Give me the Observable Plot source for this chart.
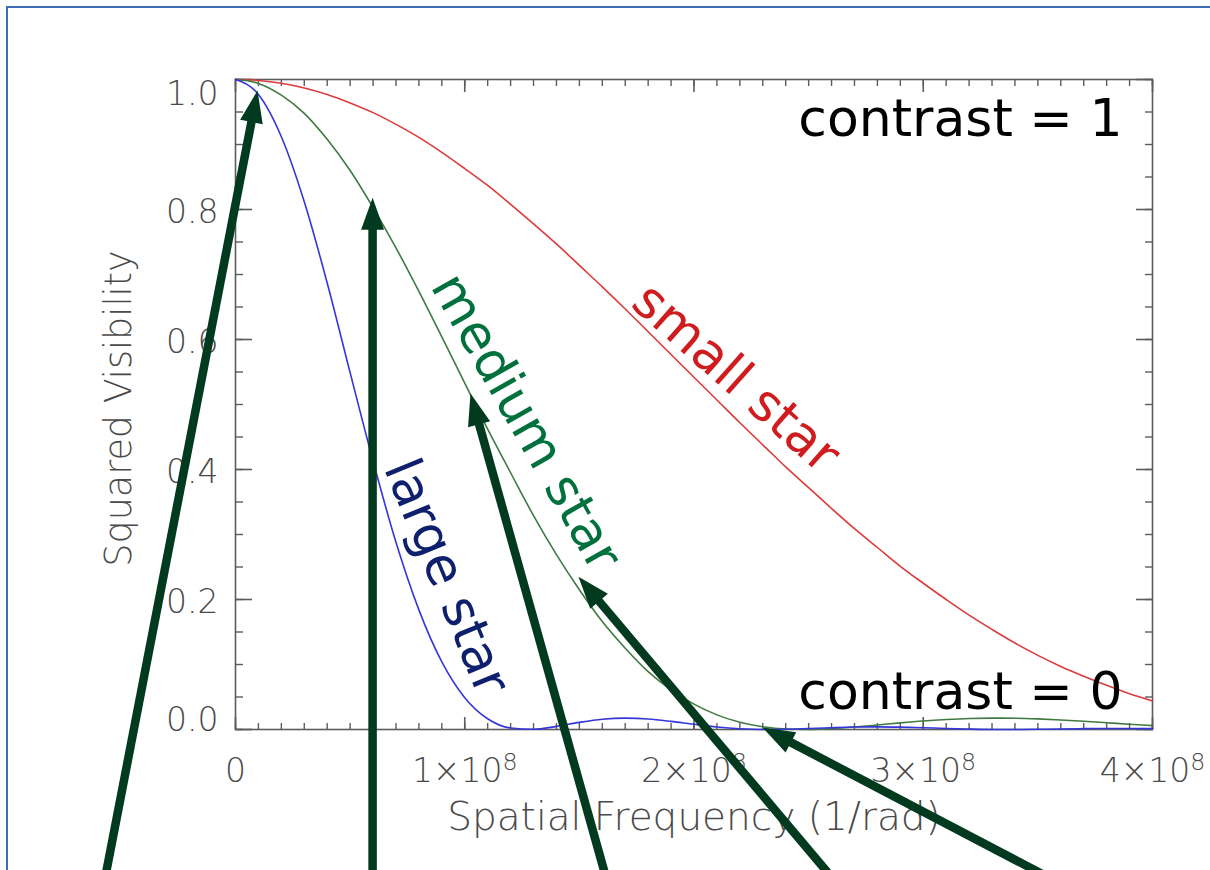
<!DOCTYPE html>
<html>
<head>
<meta charset="utf-8">
<script src="https://cdn.jsdelivr.net/npm/d3@7"></script>
<script src="https://cdn.jsdelivr.net/npm/@observablehq/plot@0.6"></script>
<style>
  html, body { margin: 0; padding: 0; background: #fff; width: 1210px; height: 870px; overflow: hidden; }
  #border { position: absolute; left: 6px; top: 6px; width: 1400px; height: 1000px;
            border-top: 2px solid #3d6db4; border-left: 2px solid #3d6db4; }
  #chart { position: absolute; left: 0; top: 0; }
</style>
</head>
<body>
<div id="border"></div>
<div id="chart"></div>
<script>
// ---------------- data ----------------
const spatialFrequency = [
  0, 1e7, 2e7, 3e7, 4e7, 5e7, 6e7, 7e7, 8e7, 9e7,
  1e8, 1.1e8, 1.2e8, 1.3e8, 1.4e8, 1.5e8, 1.6e8, 1.7e8, 1.8e8, 1.9e8,
  2e8, 2.1e8, 2.2e8, 2.3e8, 2.4e8, 2.5e8, 2.6e8, 2.7e8, 2.8e8, 2.9e8,
  3e8, 3.1e8, 3.2e8, 3.3e8, 3.4e8, 3.5e8, 3.6e8, 3.7e8, 3.8e8, 3.9e8, 4e8
];
const smallStar = [
  1, 0.9985, 0.9942, 0.987, 0.977, 0.964, 0.949, 0.931, 0.911, 0.888,
  0.863, 0.837, 0.808, 0.778, 0.747, 0.714, 0.681, 0.647, 0.612, 0.577,
  0.542, 0.507, 0.472, 0.438, 0.404, 0.372, 0.340, 0.309, 0.280, 0.251,
  0.225, 0.200, 0.176, 0.154, 0.133, 0.114, 0.097, 0.082, 0.068, 0.055, 0.044
];
const mediumStar = [
  1, 0.994, 0.976, 0.948, 0.908, 0.860, 0.803, 0.741, 0.674, 0.604,
  0.533, 0.462, 0.395, 0.329, 0.269, 0.215, 0.166, 0.125, 0.089, 0.061,
  0.039, 0.0225, 0.0111, 0.0042, 0.0007, 0.0000, 0.0013, 0.0038, 0.0069, 0.0102,
  0.0131, 0.0153, 0.0169, 0.0175, 0.0173, 0.0163, 0.0147, 0.0128, 0.0105, 0.0081, 0.0059
];
const largeStar = [
  1, 0.977, 0.912, 0.812, 0.687, 0.549, 0.413, 0.288, 0.184, 0.104,
  0.049, 0.0165, 0.0023, 0.0003, 0.0048, 0.0110, 0.0158, 0.0175, 0.0162, 0.0125,
  0.0080, 0.0039, 0.0012, 0.0000, 0.0003, 0.0015, 0.0028, 0.0038, 0.0041, 0.0037,
  0.0028, 0.0016, 0.0007, 0.0001, 0.0000, 0.0003, 0.0008, 0.0013, 0.0015, 0.0015, 0.0014
];
const seriesNames = ["small star", "medium star", "large star"];

const xMajorTicks = [0, 1e8, 2e8, 3e8, 4e8];
const xTickLabels = ["0", "1×10⁸", "2×10⁸", "3×10⁸", "4×10⁸"];
const yMajorTicks = [0, 0.2, 0.4, 0.6, 0.8, 1.0];
const yTickLabels = ["0.0", "0.2", "0.4", "0.6", "0.8", "1.0"];
const xMinorTicks = d3.range(0, 4e8 + 1, 1e7);
const yMinorTicks = d3.range(0, 1.0001, 0.05);

const xTitle = "Spatial Frequency (1/rad)";
const yTitle = "Squared Visibility";
const contrastLabels = ["contrast = 1", "contrast = 0"];

// arrows (tail below the axis, tip on a curve), in data units
const arrowTailX = [-0.567e8, 0.598e8, 1.614e8, 2.595e8, 3.533e8];
const arrowTailY = [-0.225, -0.225, -0.225, -0.225, -0.225];
const arrowTipX  = [0.096e8, 0.598e8, 1.025e8, 1.496e8, 2.299e8];
const arrowTipY  = [0.983, 0.818, 0.517, 0.235, 0.003];

// curve label anchors (centre of each rotated label), in data units
const labelX = [2.183e8, 1.267e8, 0.920e8];
const labelY = [0.541, 0.473, 0.235];

// ---------------- styles ----------------
const lineColors  = ["#dd3b3b", "#3f7a40", "#3535dc"];
const labelColors = ["#d01c1f", "#00703c", "#0e1f6e"];
const labelAngles = [41.5, 60.5, 67.5];
const arrowColor = "#023a1f";
const tickColor = "#5c5c5c";
const textGray = "#4a4a4a";

const seriesValues = [smallStar, mediumStar, largeStar];
const rows = seriesNames.flatMap((name, s) =>
  spatialFrequency.map((f, i) => ({series: name, freq: f, v2: seriesValues[s][i]})));
const arrowRows = arrowTipX.map((x, i) => ({x1: arrowTailX[i], y1: arrowTailY[i], x2: x, y2: arrowTipY[i]}));

function triangleHead() {
  const ns = "http://www.w3.org/2000/svg";
  const m = document.createElementNS(ns, "marker");
  m.setAttribute("viewBox", "-32 -11.5 32 23");
  m.setAttribute("markerWidth", 32);
  m.setAttribute("markerHeight", 23);
  m.setAttribute("markerUnits", "userSpaceOnUse");
  m.setAttribute("refX", 0);
  m.setAttribute("refY", 0);
  m.setAttribute("orient", "auto");
  m.setAttribute("overflow", "visible");
  const p = document.createElementNS(ns, "path");
  p.setAttribute("d", "M0,0L-32,-11.5L-32,11.5Z");
  p.setAttribute("fill", arrowColor);
  p.setAttribute("stroke", "none");
  m.appendChild(p);
  return m;
}

const marks = [];
// frame + ticks on all four sides (pointing inwards)
marks.push(Plot.frame({stroke: tickColor, strokeWidth: 1.6}));
for (const anchor of ["bottom", "top"]) {
  marks.push(Plot.axisX(xMajorTicks, {anchor, tickSize: -12, fill: "none", stroke: tickColor, strokeWidth: 1.6, label: null}));
  marks.push(Plot.axisX(xMinorTicks, {anchor, tickSize: -6, fill: "none", stroke: tickColor, strokeWidth: 1.4, label: null}));
}
for (const anchor of ["left", "right"]) {
  marks.push(Plot.axisY(yMajorTicks, {anchor, tickSize: -17, fill: "none", stroke: tickColor, strokeWidth: 1.6, label: null}));
  marks.push(Plot.axisY(yMinorTicks, {anchor, tickSize: -8, fill: "none", stroke: tickColor, strokeWidth: 1.4, label: null}));
}
// tick labels
const tickFont = {fontSize: 33, fill: textGray, fontWeight: 200, label: null, stroke: "none", tickSize: 0};
marks.push(Plot.axisX(xMajorTicks, {...tickFont, anchor: "bottom", tickPadding: 29,
  tickFormat: (d) => xTickLabels[xMajorTicks.indexOf(d)]}));
const yFmt = (d) => yTickLabels[yMajorTicks.indexOf(d)];
marks.push(Plot.axisY(yMajorTicks.slice(1, 5), {...tickFont, anchor: "left", tickPadding: 17, dy: 3, tickFormat: yFmt}));
marks.push(Plot.axisY([yMajorTicks[5]], {...tickFont, anchor: "left", tickPadding: 17, dy: 15, tickFormat: yFmt}));
marks.push(Plot.axisY([yMajorTicks[0]], {...tickFont, anchor: "left", tickPadding: 17, dy: -9, tickFormat: yFmt}));
// axis titles
marks.push(Plot.text([xTitle], {frameAnchor: "bottom", dy: 88, textAnchor: "middle", lineAnchor: "middle",
  fontSize: 39, fontWeight: 200, fill: textGray, text: (d) => d}));
marks.push(Plot.text([yTitle], {frameAnchor: "left", dx: -116, dy: 4, rotate: -90, textAnchor: "middle", lineAnchor: "middle",
  fontSize: 36.5, fontWeight: 200, fill: textGray, text: (d) => d}));

// curves
seriesNames.forEach((name, s) => {
  marks.push(Plot.line(rows.filter((r) => r.series === name), {
    x: "freq", y: "v2", stroke: lineColors[s], strokeWidth: 1.6, curve: "monotone-x"
  }));
});

// curve labels
seriesNames.forEach((name, s) => {
  marks.push(Plot.text([name], {
    x: () => labelX[s], y: () => labelY[s], text: (d) => d, rotate: labelAngles[s],
    fontSize: 52, fill: labelColors[s], textAnchor: "middle", lineAnchor: "middle"
  }));
});

// contrast annotations
marks.push(Plot.text([contrastLabels[0]], {frameAnchor: "top-right", dx: -30, dy: 40, textAnchor: "end", lineAnchor: "middle",
  fontSize: 52, fill: "#000", text: (d) => d}));
marks.push(Plot.text([contrastLabels[1]], {frameAnchor: "bottom-right", dx: -30, dy: -37, textAnchor: "end", lineAnchor: "middle",
  fontSize: 52, fill: "#000", text: (d) => d}));

// arrows
marks.push(Plot.arrow(arrowRows, {x1: "x1", y1: "y1", x2: "x2", y2: "y2", stroke: arrowColor, strokeWidth: 8.5,
  headLength: 0, insetEnd: 26, strokeLinecap: "butt"}));
marks.push(Plot.link(arrowRows, {x1: "x1", y1: "y1", x2: "x2", y2: "y2", stroke: arrowColor, strokeOpacity: 0,
  markerEnd: triangleHead}));

const chart = Plot.plot({
  width: 1210,
  height: 870,
  marginLeft: 235,
  marginRight: 58,
  marginTop: 79,
  marginBottom: 141,
  style: {fontFamily: "DejaVu Sans", background: "transparent", overflow: "visible"},
  x: {domain: [0, 4e8]},
  y: {domain: [0, 1]},
  marks
});

// render the exponent of the x tick labels as a real superscript
chart.querySelectorAll("text").forEach((t) => {
  if (t.children.length === 0 && t.textContent.includes("⁸")) {
    const base = t.textContent.replace("⁸", "");
    t.textContent = base;
    const sup = document.createElementNS("http://www.w3.org/2000/svg", "tspan");
    sup.setAttribute("dy", "-0.5em");
    sup.setAttribute("font-size", "0.72em");
    sup.textContent = "8";
    t.appendChild(sup);
  }
});
document.getElementById("chart").appendChild(chart);
</script>
</body>
</html>
